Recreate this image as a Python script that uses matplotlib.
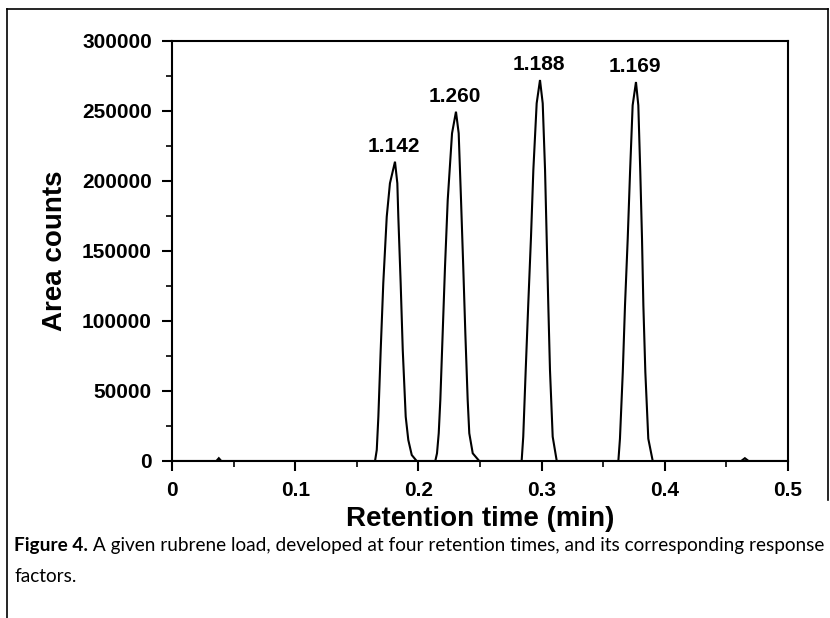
import matplotlib
matplotlib.use("Agg")
import matplotlib.pyplot as plt
from matplotlib.ticker import MultipleLocator, FuncFormatter
from matplotlib.lines import Line2D

# ---- data ----
baseline_t = [0.0, 0.036, 0.038, 0.040, 0.1648]
baseline_a = [0, 0, 2000, 0, 0]

peak1_t = [0.1648, 0.1662, 0.1675, 0.1694, 0.1715, 0.1743, 0.1769, 0.1810,
           0.1829, 0.1837, 0.1856, 0.1873, 0.1897, 0.1918, 0.1946, 0.1986]
peak1_a = [0, 7860, 31640, 79290, 127140, 174500, 198360, 213790,
           198360, 174500, 127140, 79290, 31640, 15000, 4290, 0]

peak2_t = [0.2137, 0.2151, 0.2165, 0.2178, 0.2197, 0.2216, 0.2238, 0.2273, 0.2305,
           0.2327, 0.2346, 0.2364, 0.2381, 0.2400, 0.2413, 0.2441, 0.2494]
peak2_a = [0, 5500, 19790, 43570, 91210, 138790, 186430, 234070, 249500,
           234070, 186430, 138790, 91210, 43570, 19790, 5500, 0]

peak3_t = [0.2838, 0.2851, 0.2871, 0.2892, 0.2914, 0.2933, 0.2960, 0.2987,
           0.3009, 0.3028, 0.3041, 0.3054, 0.3068, 0.3090, 0.3123]
peak3_a = [0, 17360, 65000, 112640, 160210, 207860, 255500, 272140,
           255500, 207860, 160210, 112640, 65000, 17360, 0]

peak4_t = [0.3623, 0.3636, 0.3659, 0.3677, 0.3699, 0.3718, 0.3739, 0.3766,
           0.3785, 0.3801, 0.3815, 0.3826, 0.3842, 0.3866, 0.3902]
peak4_a = [0, 15930, 63570, 111210, 158790, 206430, 254070, 270710,
           254070, 206430, 158790, 111210, 63570, 15930, 0]

tail_t = [0.3902, 0.462, 0.465, 0.468, 0.5]
tail_a = [0, 0, 2000, 0, 0]

peak_labels = ["1.142", "1.260", "1.188", "1.169"]

x_ticks = [0, 0.1, 0.2, 0.3, 0.4, 0.5]
x_tick_labels = ["0", "0.1", "0.2", "0.3", "0.4", "0.5"]
y_ticks = [0, 50000, 100000, 150000, 200000, 250000, 300000]

xlabel = "Retention time (min)"
ylabel = "Area counts"
caption_bold = "Figure 4."
caption_rest = " A given rubrene load, developed at four retention times, and its corresponding response"
caption_line2 = "factors."

# ---- figure ----
W, H = 830, 618
fig = plt.figure(figsize=(W / 100, H / 100), dpi=100)
fig.patch.set_facecolor("white")

ax = fig.add_axes([172 / W, 1 - 461 / H, 616 / W, 420 / H])

bold_font = ["Liberation Sans", "DejaVu Sans"]

segments = [(baseline_t, baseline_a), (peak1_t, peak1_a), (peak2_t, peak2_a),
            (peak3_t, peak3_a), (peak4_t, peak4_a), (tail_t, tail_a)]
t_all, a_all = [], []
for t, a in segments:
    t_all += list(t)
    a_all += list(a)
ax.plot(t_all, a_all, color="black", lw=1.5, solid_joinstyle="miter")

peaks = [(peak1_t, peak1_a), (peak2_t, peak2_a), (peak3_t, peak3_a), (peak4_t, peak4_a)]
for (t, a), lab in zip(peaks, peak_labels):
    i = a.index(max(a))
    ax.annotate(lab, (t[i], a[i]), xytext=(-1, 7), textcoords="offset points",
                ha="center", va="baseline", fontsize=15, fontweight="bold",
                family=bold_font)

ax.set_xlim(0, 0.5)
ax.set_ylim(0, 300000)
ax.set_xticks(x_ticks)
ax.set_xticklabels(x_tick_labels)
ax.set_yticks(y_ticks)
ax.yaxis.set_major_formatter(FuncFormatter(lambda v, p: f"{int(v)}"))
ax.xaxis.set_minor_locator(MultipleLocator(0.05))
ax.yaxis.set_minor_locator(MultipleLocator(25000))

for s in ax.spines.values():
    s.set_linewidth(1.5)
ax.tick_params(which="major", direction="out", length=7.5, width=1.5, pad=7,
               labelsize=15)
ax.tick_params(which="minor", direction="out", length=4.5, width=1.2)
for lab in ax.get_xticklabels() + ax.get_yticklabels():
    lab.set_fontweight("bold")
    lab.set_family(bold_font)

ax.set_xlabel(xlabel, fontsize=20, fontweight="bold", family=bold_font, labelpad=4)
ax.set_ylabel(ylabel, fontsize=20, fontweight="bold", family=bold_font, labelpad=10)

# figure frame
fig.add_artist(Line2D([7 / W, 7 / W], [0, 1 - 9 / H], transform=fig.transFigure,
                      color="black", lw=1.2))
fig.add_artist(Line2D([7 / W, 828 / W], [1 - 9 / H, 1 - 9 / H], transform=fig.transFigure,
                      color="black", lw=1.2))
fig.add_artist(Line2D([828 / W, 828 / W], [1 - 9 / H, 1 - 500 / H], transform=fig.transFigure,
                      color="black", lw=1.2))

# caption
cap_font = ["Lato", "DejaVu Sans"]
cap_size = 13.7
t1 = fig.text(14 / W, 1 - 551 / H, caption_bold, fontsize=cap_size, fontweight="bold",
              family=cap_font, va="baseline", ha="left")
fig.canvas.draw()
bb = t1.get_window_extent(renderer=fig.canvas.get_renderer())
fig.text(bb.x1 / W, 1 - 551 / H, caption_rest, fontsize=cap_size, family=cap_font,
         va="baseline", ha="left")
fig.text(14 / W, 1 - 582 / H, caption_line2, fontsize=cap_size, family=cap_font,
         va="baseline", ha="left")

fig.savefig("out.png", dpi=100)
